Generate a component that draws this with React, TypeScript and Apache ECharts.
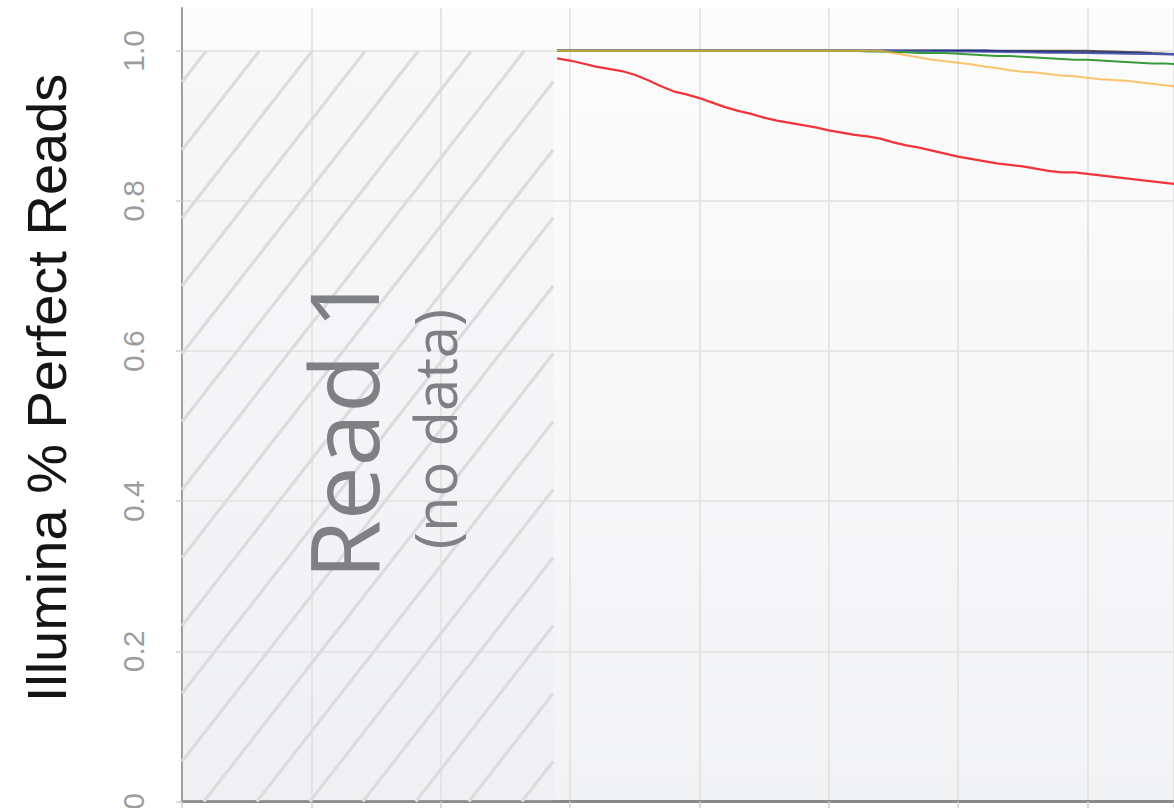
import React, { useEffect, useRef } from "react";
import * as echarts from "echarts";

// Sequencing cycle (x) for Read 2 data
const cycles = [29, 30, 31, 32, 33, 34, 35, 36, 37, 38, 39, 40, 41, 42, 43, 44, 45, 46, 47, 48, 49, 50, 51, 52, 53, 54, 55, 56, 57, 58, 59, 60, 61, 62, 63, 64, 65, 66, 67, 68, 69, 70, 71, 72, 73, 74, 75, 76, 77];

const redValues = [0.99, 0.987, 0.983, 0.979, 0.976, 0.973, 0.968, 0.961, 0.953, 0.946, 0.942, 0.937, 0.931, 0.925, 0.92, 0.916, 0.911, 0.907, 0.904, 0.901, 0.898, 0.894, 0.891, 0.888, 0.886, 0.883, 0.878, 0.874, 0.871, 0.867, 0.863, 0.859, 0.856, 0.853, 0.85, 0.848, 0.846, 0.843, 0.84, 0.838, 0.838, 0.836, 0.834, 0.832, 0.83, 0.828, 0.826, 0.824, 0.822];

const orangeValues = [1, 1, 1, 1, 1, 1, 1, 1, 1, 1, 1, 1, 1, 1, 1, 1, 1, 1, 1, 1, 1, 1, 1, 1, 1, 1, 0.997, 0.994, 0.991, 0.988, 0.986, 0.984, 0.982, 0.979, 0.977, 0.974, 0.972, 0.971, 0.969, 0.967, 0.966, 0.964, 0.962, 0.961, 0.96, 0.958, 0.956, 0.954, 0.952];

const greenValues = [1, 1, 1, 1, 1, 1, 1, 1, 1, 1, 1, 1, 1, 1, 1, 1, 1, 1, 1, 1, 1, 1, 1, 1, 0.999, 0.999, 0.998, 0.998, 0.997, 0.997, 0.997, 0.996, 0.995, 0.994, 0.993, 0.993, 0.992, 0.991, 0.99, 0.989, 0.988, 0.988, 0.987, 0.986, 0.985, 0.984, 0.983, 0.983, 0.982];

const navyValues = [1, 1, 1, 1, 1, 1, 1, 1, 1, 1, 1, 1, 1, 1, 1, 1, 1, 1, 1, 1, 1, 1, 1, 1, 1, 1, 1, 1, 1, 1, 1, 1, 1, 1, 0.9995, 0.999, 0.9988, 0.9985, 0.998, 0.998, 0.9978, 0.9975, 0.9972, 0.997, 0.9968, 0.9965, 0.996, 0.9957, 0.9954];

const blueValues = [1, 1, 1, 1, 1, 1, 1, 1, 1, 1, 1, 1, 1, 1, 1, 1, 1, 1, 1, 1, 1, 1, 1, 1, 1, 1, 1, 0.9995, 0.9993, 0.999, 0.9988, 0.9985, 0.9983, 0.998, 0.9979, 0.9978, 0.9977, 0.9975, 0.9972, 0.997, 0.9969, 0.9968, 0.9966, 0.9965, 0.9962, 0.996, 0.9958, 0.9957, 0.9955];

const blackValues = [1, 1, 1, 1, 1, 1, 1, 1, 1, 1, 1, 1, 1, 1, 1, 1, 1, 1, 1, 1, 1, 1, 1, 1, 1, 1, 1, 1, 1, 1, 1, 1, 1, 1, 1, 1, 1, 1, 1, 1, 1, 1, 0.9995, 0.999, 0.9985, 0.998, 0.997, 0.9962, 0.9956];

const yTickValues = [0, 0.2, 0.4, 0.6, 0.8, 1.0];
const read1Region = [0, 28.7, 1.0, 0];
const yAxisTitle = "Illumina % Perfect Reads";
const read1Title = "Read 1";
const read1Sub = "(no data)";

const pair = (vals: number[]) => cycles.map((c, i) => [c, vals[i]]);

export default function App() {
  const ref = useRef<HTMLDivElement>(null);
  useEffect(() => {
    if (!ref.current) return;
    const chart = echarts.init(ref.current, null, { renderer: "svg" });
    const lineSeries = (name: string, vals: number[], color: string, z: number, opacity = 1, width = 2) => ({
      name,
      type: "line",
      data: pair(vals),
      showSymbol: false,
      symbol: "none",
      z,
      lineStyle: { color, width, opacity },
      itemStyle: { color },
    });
    chart.setOption({
      animation: false,
      grid: {
        left: 182,
        right: 0,
        top: 8,
        bottom: 6.5,
        outerBoundsMode: "none",
        containLabel: false,
        show: true,
        borderWidth: 0,
        backgroundColor: new echarts.graphic.LinearGradient(0, 0, 0, 1, [
          { offset: 0, color: "#fcfcfc" },
          { offset: 1, color: "#f2f3f5" },
        ]),
      },
      xAxis: {
        type: "value",
        min: 0,
        max: 76.7,
        interval: 10,
        axisLine: { show: true, lineStyle: { color: "#8a8a8a", width: 3 } },
        axisTick: { show: true, length: 7, lineStyle: { color: "#cfcfcf", width: 1.5 } },
        axisLabel: { show: false },
        splitLine: { show: true, showMinLine: false, lineStyle: { color: "#dfdfdf", width: 1.5 } },
      },
      yAxis: {
        type: "value",
        min: 0,
        max: 1.057,
        interval: 0.2,
        axisLine: { show: true, lineStyle: { color: "#9a9a9a", width: 2 } },
        axisTick: { show: true, length: 6, lineStyle: { color: "#d0d0d0", width: 1.5 } },
        axisLabel: {
          rotate: 90,
          fontSize: 30,
          color: "#9d9d9d",
          fontFamily: "Liberation Sans, Arial, sans-serif",
          margin: 34,
          showMaxLabel: false,
          formatter: (v: number) => {
            const t = yTickValues.find((x) => Math.abs(x - v) < 1e-6);
            if (t === undefined) return "";
            return t === 0 ? "0" : t.toFixed(1);
          },
        },
        splitLine: { show: true, showMaxLine: false, lineStyle: { color: "#e3e0de", width: 1.5 } },
      },
      series: [
        {
          type: "custom",
          z: 1,
          silent: true,
          data: [read1Region],
          renderItem: (params: any, api: any) => {
            const p0 = api.coord([api.value(0), api.value(2)]);
            const p1 = api.coord([api.value(1), api.value(3)]);
            const x0 = p0[0], y0 = p0[1], x1 = p1[0], y1 = p1[1];
            const children: any[] = [
              {
                type: "rect",
                shape: { x: x0, y: y0, width: x1 - x0, height: y1 - y0 },
                style: { fill: "rgba(228,231,236,0.15)" },
              },
            ];
            const k = 0.78;
            const sp = 53;
            const phase = 723;
            const cMin = x0 + k * y0;
            const cMax = x1 + k * y1;
            let c = Math.ceil((cMin - phase) / sp) * sp + phase;
            for (; c < cMax; c += sp) {
              const ya = Math.max(y0, (c - x1) / k);
              const yb = Math.min(y1, (c - x0) / k);
              if (yb > ya) {
                children.push({
                  type: "line",
                  shape: { x1: c - k * ya, y1: ya, x2: c - k * yb, y2: yb },
                  style: { stroke: "#dcdcde", lineWidth: 3.2 },
                });
              }
            }
            return { type: "group", children };
          },
        },
        lineSeries("Lane A", blackValues, "#555555", 3),
        lineSeries("Lane B", navyValues, "#27307f", 4, 1, 2.5),
        lineSeries("Lane C", blueValues, "#6470c4", 5, 0.8, 1.5),
        lineSeries("Lane D", greenValues, "#3a9b3a", 6),
        lineSeries("Lane E", orangeValues, "#fbb03b", 7, 0.75),
        lineSeries("Lane F", redValues, "#f2333a", 8, 1, 2.2),
      ],
      graphic: [
        {
          type: "text",
          x: 46,
          y: 388,
          rotation: Math.PI / 2,
          z: 10,
          style: {
            text: yAxisTitle,
            fontSize: 56,
            fontFamily: "Liberation Sans, Arial, sans-serif",
            fill: "#151515",
            textAlign: "center",
            textVerticalAlign: "middle",
          },
        },
        {
          type: "text",
          x: 341,
          y: 427,
          rotation: Math.PI / 2,
          z: 10,
          style: {
            text: read1Title,
            fontSize: 96,
            fontWeight: 500,
            fontFamily: "Open Sans, sans-serif",
            fill: "#7f8084",
            textAlign: "center",
            textVerticalAlign: "middle",
          },
        },
        {
          type: "text",
          x: 434,
          y: 429,
          rotation: Math.PI / 2,
          z: 10,
          style: {
            text: read1Sub,
            fontSize: 58,
            fontWeight: 500,
            fontFamily: "Open Sans, sans-serif",
            fill: "#7f8084",
            textAlign: "center",
            textVerticalAlign: "middle",
          },
        },
      ],
    });
    return () => chart.dispose();
  }, []);
  return (
    <div
      ref={ref}
      style={{ position: "fixed", left: 0, top: 0, width: 1174, height: 808, background: "#ffffff" }}
    />
  );
}
